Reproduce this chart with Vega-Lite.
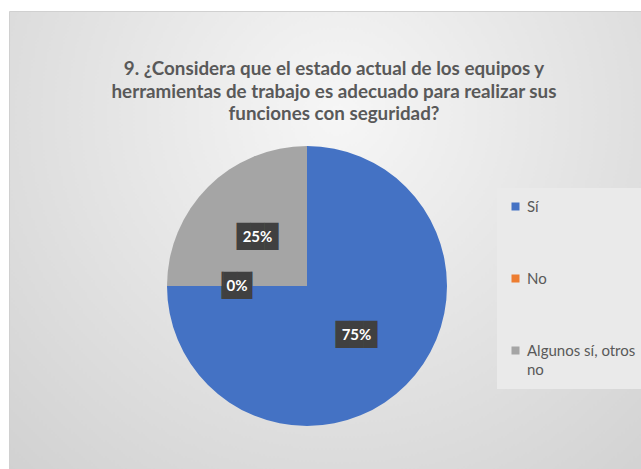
{
  "$schema": "https://vega.github.io/schema/vega-lite/v6.json",
  "width": 632,
  "height": 458,
  "autosize": {"type": "none"},
  "padding": {"left": 9, "top": 11, "right": 0, "bottom": 0},
  "background": "white",
  "title": {
    "text": ["9. ¿Considera que el estado actual de los equipos y", "herramientas de trabajo es adecuado para realizar sus", "funciones con seguridad?"],
    "font": "Lato",
    "fontSize": 18.8,
    "fontWeight": "bold",
    "color": "#595959",
    "lineHeight": 22.5,
    "anchor": "middle",
    "baseline": "bottom",
    "offset": -132,
    "dx": 9
  },
  "data": {
    "values": [
      {"categoria": "Sí", "orden": 1, "valor": 0.75},
      {"categoria": "No", "orden": 2, "valor": 0.0},
      {"categoria": "Algunos sí, otros no", "orden": 3, "valor": 0.25}
    ]
  },
  "encoding": {
    "theta": {"field": "valor", "type": "quantitative", "stack": true},
    "order": {"field": "orden", "type": "quantitative"},
    "x": {"datum": 0, "type": "quantitative", "scale": {"domain": [-298, 334]}, "axis": null},
    "y": {"datum": 0, "type": "quantitative", "scale": {"domain": [-183, 275]}, "axis": null}
  },
  "layer": [
    {
      "mark": {"type": "arc", "outerRadius": 140},
      "encoding": {
        "color": {
          "field": "categoria",
          "type": "nominal",
          "scale": {"domain": ["Sí", "No", "Algunos sí, otros no"], "range": ["#4472C4", "#ED7D31", "#A5A5A5"]},
          "legend": {
            "title": null,
            "orient": "none",
            "legendX": 488,
            "legendY": 177,
            "fillColor": "#eaeaea",
            "padding": 11,
            "rowPadding": 56,
            "symbolType": "square",
            "symbolSize": 64,
            "symbolStrokeWidth": 0,
            "labelFont": "Lato",
            "labelFontSize": 15,
            "labelColor": "#595959",
            "labelOffset": 4,
            "labelLimit": 200,
            "labelExpr": "datum.label == 'Algunos sí, otros no' ? ['Algunos sí, otros', 'no'] : datum.label"
          }
        }
      }
    },
    {
      "mark": {"type": "text", "radius": 70, "font": "DejaVu Sans Mono", "fontSize": 23, "baseline": "middle", "align": "center", "fill": "#404040"},
      "encoding": {
        "text": {"condition": {"test": "datum.valor == 0", "value": "▕██▏"}, "value": "███"}
      }
    },
    {
      "mark": {"type": "text", "radius": 70, "font": "Lato", "fontSize": 15, "fontWeight": "bold", "baseline": "middle", "align": "center", "fill": "white"},
      "encoding": {
        "text": {"field": "valor", "type": "quantitative", "format": ".0%"}
      }
    }
  ],
  "config": {
    "style": {"guide-label": {"lineHeight": 19}},
    "view": {
      "stroke": "#d0d0d0",
      "fill": {
        "gradient": "radial",
        "x1": 0.52, "y1": 0.3, "x2": 0.52, "y2": 0.3, "r1": 0, "r2": 0.85,
        "stops": [
          {"offset": 0, "color": "#f6f6f6"},
          {"offset": 1, "color": "#cdcdcd"}
        ]
      }
    }
  }
}
